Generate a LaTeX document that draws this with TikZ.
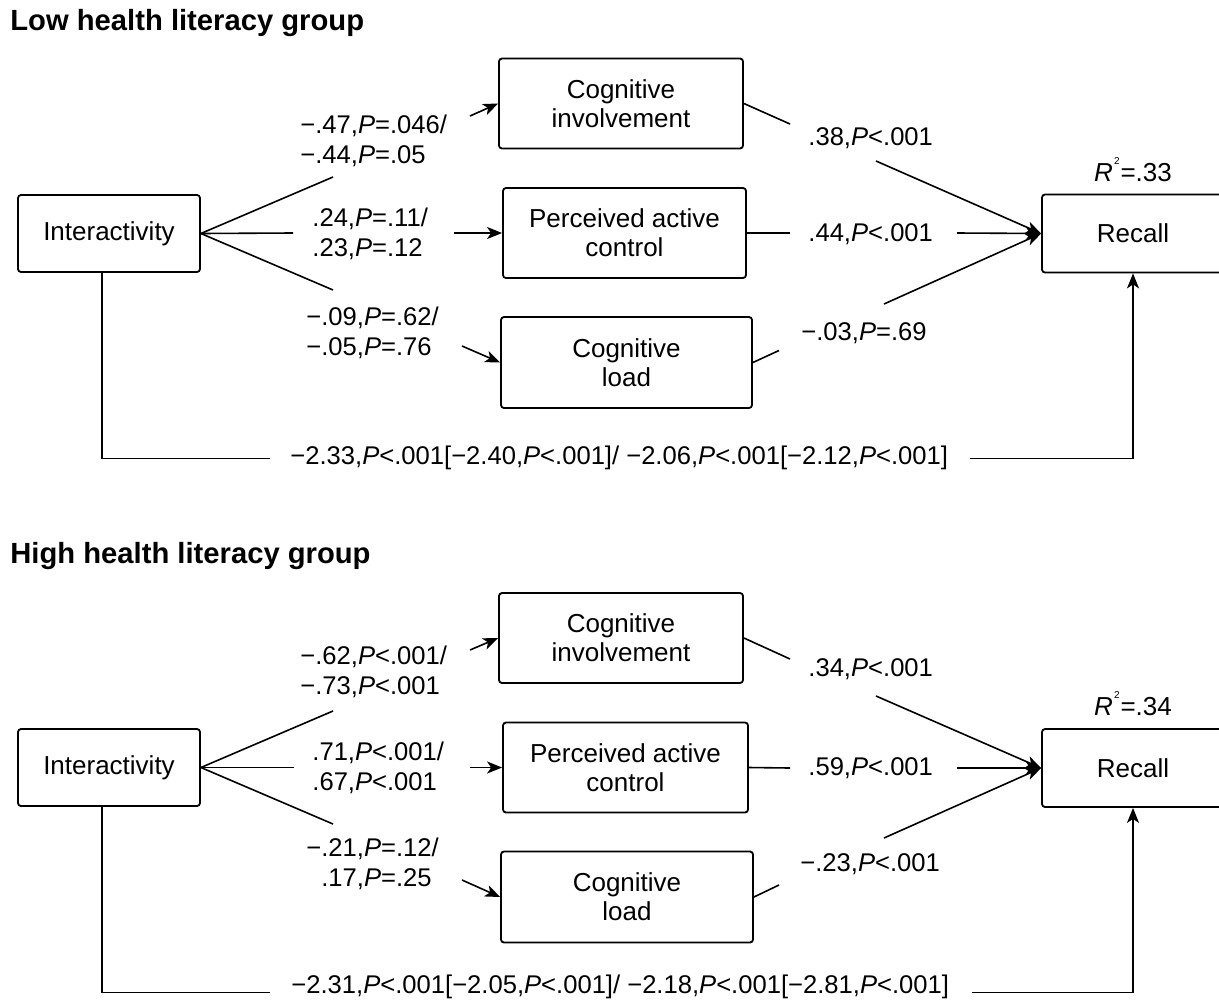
\documentclass[tikz,border=0pt]{standalone}
\usepackage{fontspec}
\setmainfont{Liberation Sans}
\usetikzlibrary{arrows.meta,calc}
\newcommand{\pv}{\textit{P}}
\newcommand{\rsq}{\textit{R}\kern0.6pt\raisebox{1.25ex}{\fontsize{5}{5}\selectfont 2}\kern0.4pt}
\begin{document}
\begin{tikzpicture}[x=0.5pt,y=-0.5pt,
  box/.style={draw,line width=0.9pt,rounded corners=1.5pt,align=center,
    font=\fontsize{13}{14.5}\selectfont,inner sep=0pt},
  lab/.style={align=left,anchor=west,font=\fontsize{12.8}{15}\selectfont,inner sep=0pt},
  conn/.style={line width=0.8pt},
  arr/.style={conn,-{Stealth[length=7.5pt,width=6pt,inset=2pt]}},
  ttl/.style={anchor=west,font=\fontsize{14.6}{16}\selectfont\bfseries,inner sep=0pt}]
\useasboundingbox (0,0) rectangle (1219,1001);

% ================= Top panel =================
\node[ttl] (t1) at (10,23) {Low health literacy group};
\node[box,minimum width=91pt,minimum height=38.5pt] (int1) at (109,233.5) {Interactivity};
\node[box,minimum width=122pt,minimum height=45pt] (ci1) at (621,103.5) {Cognitive\\involvement};
\node[box,minimum width=121.5pt,minimum height=45pt] (pac1) at (624.5,233) {Perceived active\\control};
\node[box,minimum width=125.5pt,minimum height=45.5pt] (cl1) at (626.5,362.5) {Cognitive\\load};
\node[box,minimum width=91pt,minimum height=39pt] (rec1) at (1133,233.5) {Recall};
\node[inner sep=0pt,font=\fontsize{13}{15}\selectfont] (r21) at (1133,170) {\rsq=.33};

\node[lab] (la1) at (300,141) {−.47,\pv=.046/\\−.44,\pv=.05};
\node[lab] (lb1) at (312,233.5) {.24,\pv=.11/\\.23,\pv=.12};
\node[lab] (lc1) at (306,332.5) {−.09,\pv=.62/\\−.05,\pv=.76};
\node[lab] (ld1) at (808,138) {.38,\pv<.001};
\node[lab] (le1) at (808,234) {.44,\pv<.001};
\node[lab] (lf1) at (801,333) {−.03,\pv=.69};
\node[lab] (lg1) at (290,458) {−2.33,\pv<.001[−2.40,\pv<.001]/ −2.06,\pv<.001[−2.12,\pv<.001]};

\coordinate (a1t) at (333,177);  \coordinate (a2t) at (470,116);
\coordinate (b1t) at (293,233);  \coordinate (b2t) at (454,233);
\coordinate (c1t) at (333,290);  \coordinate (c2t) at (462,346);
\coordinate (d1t) at (790,124);  \coordinate (d2t) at (876,161);
\coordinate (e1t) at (790,233);  \coordinate (e2t) at (957,233);
\coordinate (f1t) at (779,350.5);\coordinate (f2t) at (884,304);
\coordinate (g1t) at (102,458.5);\coordinate (g2t) at (270,458.5);
\coordinate (g3t) at (970,458.5);

\draw[conn] (int1.east) -- (a1t);  \draw[arr] (a2t) -- (ci1.west);
\draw[conn] (int1.east) -- (b1t);  \draw[arr] (b2t) -- (pac1.west);
\draw[conn] (int1.east) -- (c1t);  \draw[arr] (c2t) -- (cl1.west);
\draw[conn] (ci1.east) -- (d1t);   \draw[arr] (d2t) -- (rec1.west);
\draw[conn] (pac1.east) -- (e1t);  \draw[arr] (e2t) -- (rec1.west);
\draw[conn] (cl1.east) -- (f1t);   \draw[arr] (f2t) -- (rec1.west);
\draw[conn] (int1.south -| g1t) -- (g1t) -- (g2t);
\draw[arr] (g3t) -| (rec1.south);

% ================= Bottom panel =================
\node[ttl] (t2) at (10,556) {High health literacy group};
\node[box,minimum width=91pt,minimum height=38.5pt] (int2) at (109,767.5) {Interactivity};
\node[box,minimum width=122pt,minimum height=45pt] (ci2) at (621,638) {Cognitive\\involvement};
\node[box,minimum width=122.5pt,minimum height=45pt] (pac2) at (625.5,767.5) {Perceived active\\control};
\node[box,minimum width=126pt,minimum height=45.5pt] (cl2) at (627,897) {Cognitive\\load};
\node[box,minimum width=91pt,minimum height=39pt] (rec2) at (1133,768) {Recall};
\node[inner sep=0pt,font=\fontsize{13}{15}\selectfont] (r22) at (1133,704) {\rsq=.34};

\node[lab] (la2) at (300,672) {−.62,\pv<.001/\\−.73,\pv<.001};
\node[lab] (lb2) at (312,768) {.71,\pv<.001/\\.67,\pv<.001};
\node[lab] (lc2) at (306,864) {−.21,\pv=.12/\\\phantom{−}.17,\pv=.25};
\node[lab] (ld2) at (808,669) {.34,\pv<.001};
\node[lab] (le2) at (808,768) {.59,\pv<.001};
\node[lab] (lf2) at (800,864) {−.23,\pv<.001};
\node[lab] (lg2) at (291,987) {−2.31,\pv<.001[−2.05,\pv<.001]/ −2.18,\pv<.001[−2.81,\pv<.001]};

\coordinate (a1b) at (333,711);  \coordinate (a2b) at (470,650);
\coordinate (b1b) at (294,767.5);\coordinate (b2b) at (470,767.5);
\coordinate (c1b) at (333,824);  \coordinate (c2b) at (462,880);
\coordinate (d1b) at (790,659);  \coordinate (d2b) at (876,696);
\coordinate (e1b) at (790,768);  \coordinate (e2b) at (957,768);
\coordinate (f1b) at (779,885);  \coordinate (f2b) at (884,838);
\coordinate (g1b) at (102,992.5);\coordinate (g2b) at (270,992.5);
\coordinate (g3b) at (972,992.5);

\draw[conn] (int2.east) -- (a1b);  \draw[arr] (a2b) -- (ci2.west);
\draw[conn] (int2.east) -- (b1b);  \draw[arr] (b2b) -- (pac2.west);
\draw[conn] (int2.east) -- (c1b);  \draw[arr] (c2b) -- (cl2.west);
\draw[conn] (ci2.east) -- (d1b);   \draw[arr] (d2b) -- (rec2.west);
\draw[conn] (pac2.east) -- (e1b);  \draw[arr] (e2b) -- (rec2.west);
\draw[conn] (cl2.east) -- (f1b);   \draw[arr] (f2b) -- (rec2.west);
\draw[conn] (int2.south -| g1b) -- (g1b) -- (g2b);
\draw[arr] (g3b) -| (rec2.south);
\end{tikzpicture}
\end{document}
